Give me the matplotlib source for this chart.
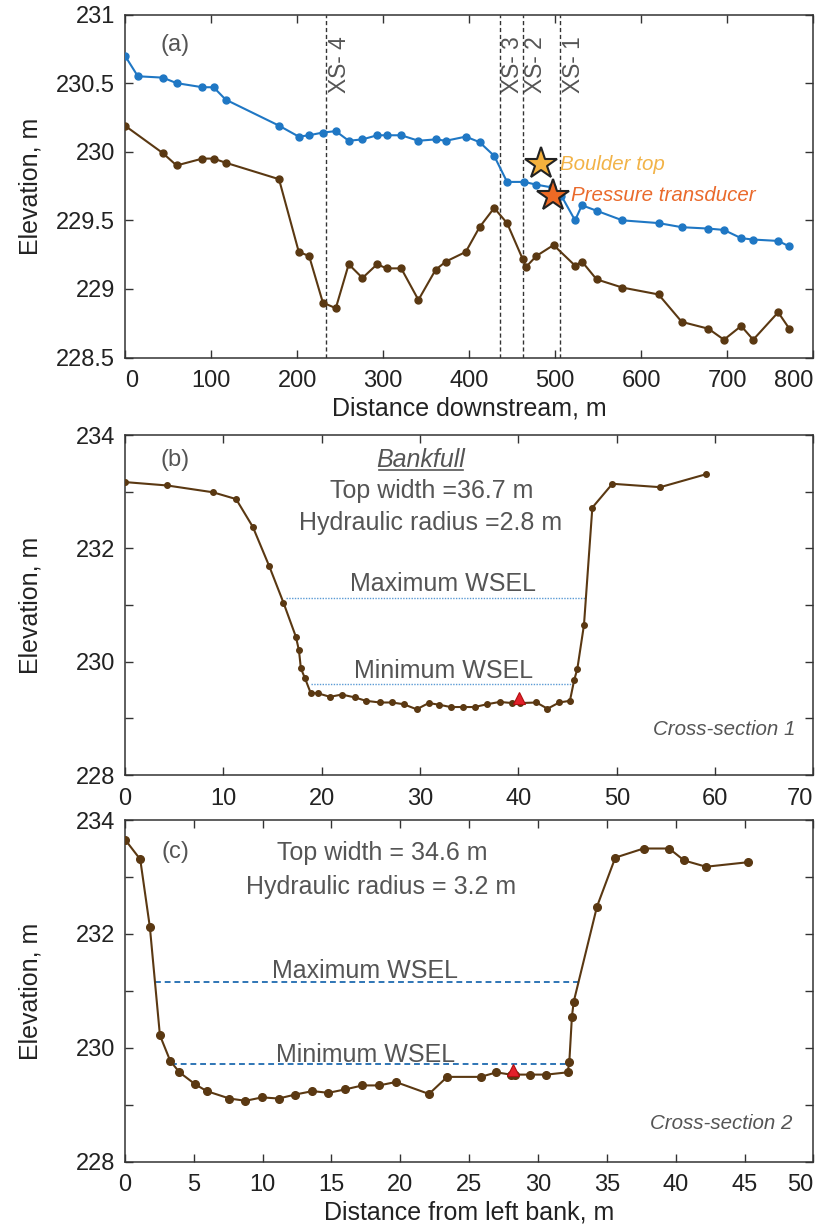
import numpy as np
import matplotlib
matplotlib.use('Agg')
import matplotlib.pyplot as plt
from matplotlib.lines import Line2D
from matplotlib import font_manager

# ---- panel (a): longitudinal profile ----
dist_ws = [0, 15, 44, 60, 90, 103, 117, 179, 202, 214, 230, 245, 260, 276, 293, 304, 321, 341,
           361, 373, 396, 412, 429, 444, 464, 478, 496, 507, 523, 531, 548, 578, 620, 647, 678,
           696, 716, 730, 759, 772]
elev_ws = [230.70, 230.55, 230.54, 230.50, 230.47, 230.47, 230.38, 230.19, 230.11, 230.12, 230.14,
           230.15, 230.08, 230.09, 230.12, 230.12, 230.12, 230.08, 230.09, 230.08, 230.11, 230.07,
           229.97, 229.78, 229.78, 229.76, 229.74, 229.68, 229.50, 229.61, 229.57, 229.50, 229.48,
           229.45, 229.44, 229.43, 229.37, 229.36, 229.35, 229.31]
dist_bed = [0, 44, 60, 90, 103, 117, 179, 202, 214, 230, 245, 260, 276, 293, 304, 321, 341, 361,
            373, 396, 412, 429, 444, 462, 466, 478, 498, 523, 531, 548, 578, 620, 647, 678, 696,
            716, 730, 759, 772]
elev_bed = [230.19, 229.99, 229.90, 229.95, 229.95, 229.92, 229.80, 229.27, 229.24, 228.90, 228.86,
            229.18, 229.08, 229.18, 229.15, 229.15, 228.92, 229.14, 229.20, 229.27, 229.45, 229.59,
            229.48, 229.22, 229.16, 229.24, 229.32, 229.17, 229.20, 229.07, 229.01, 228.96, 228.76,
            228.71, 228.63, 228.73, 228.63, 228.83, 228.71]
xs_pos = [234, 436, 462, 506]
xs_names = ['XS- 4', 'XS- 3', 'XS- 2', 'XS- 1']
boulder = (484, 229.91)
transducer = (497, 229.68)

# ---- panel (b): cross-section 1 ----
xs1_dist = [0, 4.3, 8.95, 11.3, 13.0, 14.66, 16.12, 17.38, 17.69, 17.89, 18.3, 18.88, 19.66, 20.85,
            22.04, 23.37, 24.49, 25.92, 27.14, 28.33, 29.66, 30.88, 31.97, 33.1, 34.35, 35.54, 36.84,
            38.1, 39.36, 40.2, 41.84, 42.96, 44.15, 45.24, 45.68, 45.99, 46.67, 47.52, 49.56, 54.42,
            59.11]
xs1_elev = [233.17, 233.11, 232.99, 232.87, 232.38, 231.69, 231.04, 230.44, 230.20, 229.88, 229.71,
            229.45, 229.44, 229.38, 229.42, 229.37, 229.31, 229.28, 229.28, 229.25, 229.16, 229.27,
            229.24, 229.20, 229.20, 229.20, 229.25, 229.29, 229.27, 229.27, 229.28, 229.17, 229.28,
            229.31, 229.68, 229.87, 230.65, 232.72, 233.14, 233.08, 233.31]
xs1_max = (231.12, 16.36, 46.77)   # level, start, end
xs1_min = (229.60, 18.9, 45.58)
xs1_gauge = (40.1, 229.36)

# ---- panel (c): cross-section 2 ----
xs2_dist = [0.03, 1.11, 1.81, 2.54, 3.29, 3.96, 5.1, 5.94, 7.59, 8.75, 9.96, 11.16, 12.37, 13.62,
            14.78, 15.99, 17.25, 18.46, 19.67, 22.08, 23.4, 25.83, 26.98, 28.0, 28.36, 29.38, 30.61,
            32.15, 32.27, 32.46, 32.59, 34.28, 35.61, 37.66, 39.52, 40.61, 42.2, 45.27]
xs2_elev = [233.65, 233.31, 232.12, 230.22, 229.77, 229.57, 229.36, 229.24, 229.11, 229.07, 229.13,
            229.11, 229.18, 229.24, 229.21, 229.27, 229.34, 229.34, 229.40, 229.19, 229.49, 229.49,
            229.57, 229.53, 229.53, 229.53, 229.53, 229.57, 229.75, 230.55, 230.81, 232.48, 233.34,
            233.50, 233.50, 233.29, 233.18, 233.26]
xs2_max = (231.16, 2.15, 32.9)
xs2_min = (229.72, 3.36, 32.17)
xs2_gauge = (28.17, 229.61)

# colours
BLUE = '#1f77c4'
BROWN = '#5a3812'
GREY = '#555555'
AXC = '#333333'

plt.rcParams['font.family'] = ['Liberation Sans', 'DejaVu Sans']
have_narrow = any(f.name == 'Liberation Sans Narrow' for f in font_manager.fontManager.ttflist)
NARROW = ['Liberation Sans Narrow', 'Liberation Sans'] if have_narrow else ['Liberation Sans']
nscale = 1.0 if have_narrow else 0.82

fig = plt.figure(figsize=(8.22, 12.3), dpi=100)
L, W = 0.152, 0.8376
ax_a = fig.add_axes([L, 0.7093, W, 0.2789])
ax_b = fig.add_axes([L, 0.3699, W, 0.2764])
ax_c = fig.add_axes([L, 0.0555, W, 0.2778])


def style(ax):
    for s in ax.spines.values():
        s.set_color(AXC)
        s.set_linewidth(1.1)
    ax.tick_params(direction='in', top=True, right=True, length=6, width=1,
                   color=AXC, labelsize=17, labelcolor='#222222', pad=7)
    ax.tick_params(axis='x', pad=9)
    ax.set_ylabel('Elevation, m', fontsize=18, color='#222222')
    ax.yaxis.set_label_coords(-0.12, 0.5)


# ---------- (a) ----------
ax = ax_a
style(ax)
for xp, name in zip(xs_pos, xs_names):
    ax.axvline(xp, color='#333333', lw=1, ls=(0, (3, 2)), zorder=1)
    ax.text(xp + 1.5, 230.43, name, rotation=90, ha='left', va='bottom',
            fontsize=20 * nscale, color=GREY, family=NARROW)
ax.plot(dist_ws, elev_ws, '-o', color=BLUE, lw=1.5, ms=5, zorder=3)
ax.plot(dist_bed, elev_bed, '-o', color=BROWN, lw=1.5, ms=5, zorder=3)
ax.plot(*boulder, marker='*', ms=24, mfc='#f5b13d', mec='#222222', mew=1.5, zorder=5)
ax.plot(*transducer, marker='*', ms=24, mfc='#ee6a24', mec='#222222', mew=1.5, zorder=5)
ax.text(505, boulder[1], 'Boulder top', style='italic', color='#f2b347',
        fontsize=18 * nscale, family=NARROW, va='center', ha='left')
ax.text(518, transducer[1], 'Pressure transducer', style='italic', color='#ea6a2c',
        fontsize=18 * nscale, family=NARROW, va='center', ha='left')
ax.text(0.0727, 0.911, '(a)', transform=ax.transAxes, fontsize=17, color=GREY,
        ha='center', va='center')
ax.set_xlim(0, 800)
ax.set_ylim(228.5, 231)
ax.set_xticks(np.arange(0, 801, 100))
ax.set_yticks([228.5, 229, 229.5, 230, 230.5, 231])
ax.set_yticklabels(['228.5', '229', '229.5', '230', '230.5', '231'])
ax.set_xlabel('Distance downstream, m', fontsize=18, color='#222222', labelpad=3)


def cross_section(ax, dist, elev, wmax, wmin, gauge, xmax, xstep, wsel_style, ms, lw, tag):
    style(ax)
    ls, wc, wlw = wsel_style
    ax.plot([wmax[1], wmax[2]], [wmax[0], wmax[0]], ls=ls, color=wc, lw=wlw, zorder=2)
    ax.plot([wmin[1], wmin[2]], [wmin[0], wmin[0]], ls=ls, color=wc, lw=wlw, zorder=2)
    ax.plot(dist, elev, '-o', color=BROWN, lw=lw, ms=ms, zorder=3)
    ax.plot(*gauge, marker='^', ms=9, mfc='#e3202a', mec='#b01010', mew=0.8, zorder=4)
    ax.set_xlim(0, xmax)
    ax.set_ylim(228, 234)
    ax.set_xticks(np.arange(0, xmax + 0.1, xstep))
    ax.set_yticks([228, 229, 230, 231, 232, 233, 234])
    ax.set_yticklabels(['228', '', '230', '', '232', '', '234'])
    ax.text(0.0727, tag[1], tag[0], transform=ax.transAxes, fontsize=17, color=GREY,
            ha='center', va='center')


# ---------- (b) ----------
cross_section(ax_b, xs1_dist, xs1_elev, xs1_max, xs1_min, xs1_gauge, 70, 10,
              ((0, (1, 1)), '#5b9bd5', 1.0), 4, 1.5, ('(b)', 0.926))
ax = ax_b
bank = ax.text(0.4288, 0.926, 'Bankfull', transform=ax.transAxes, style='italic',
               fontsize=18, color=GREY, ha='center', va='center')
ax.text(0.4448, 0.835, 'Top width =36.7 m', transform=ax.transAxes, fontsize=18,
        color=GREY, ha='center', va='center')
ax.text(0.4433, 0.741, 'Hydraulic radius =2.8 m', transform=ax.transAxes, fontsize=18,
        color=GREY, ha='center', va='center')
ax.text(32.35, 231.24, 'Maximum WSEL', fontsize=18, color=GREY, ha='center', va='baseline')
ax.text(32.35, 229.71, 'Minimum WSEL', fontsize=18, color=GREY, ha='center', va='baseline')
ax.text(68.2, 228.8, 'Cross-section 1', style='italic', fontsize=18 * nscale, family=NARROW,
        color=GREY, ha='right', va='center')

# ---------- (c) ----------
cross_section(ax_c, xs2_dist, xs2_elev, xs2_max, xs2_min, xs2_gauge, 50, 5,
              ((0, (3, 2)), '#2e75b6', 1.4), 5.5, 1.5, ('(c)', 0.907))
ax = ax_c
ax.text(0.3743, 0.9034, 'Top width = 34.6 m', transform=ax.transAxes, fontsize=18,
        color=GREY, ha='center', va='center')
ax.text(0.3714, 0.805, 'Hydraulic radius = 3.2 m', transform=ax.transAxes, fontsize=18,
        color=GREY, ha='center', va='center')
ax.text(17.44, 231.22, 'Maximum WSEL', fontsize=18, color=GREY, ha='center', va='baseline')
ax.text(17.44, 229.75, 'Minimum WSEL', fontsize=18, color=GREY, ha='center', va='baseline')
ax.text(48.5, 228.67, 'Cross-section 2', style='italic', fontsize=18 * nscale, family=NARROW,
        color=GREY, ha='right', va='center')
ax.set_xlabel('Distance from left bank, m', fontsize=18, color='#222222', labelpad=3)

fig.canvas.draw()

# keep the end tick labels inside the frame, as in the original figure
ax_a.get_xticklabels()[0].set_ha('left')
for ax in (ax_a, ax_b, ax_c):
    ax.get_xticklabels()[-1].set_ha('right')

# underline "Bankfull"
bb = bank.get_window_extent().transformed(fig.transFigure.inverted())
fig.add_artist(Line2D([bb.x0 + 0.004, bb.x1 - 0.002], [bb.y0 + 0.002, bb.y0 + 0.002],
                      transform=fig.transFigure, color=GREY, lw=1.2))

fig.savefig('out.png', dpi=100)
